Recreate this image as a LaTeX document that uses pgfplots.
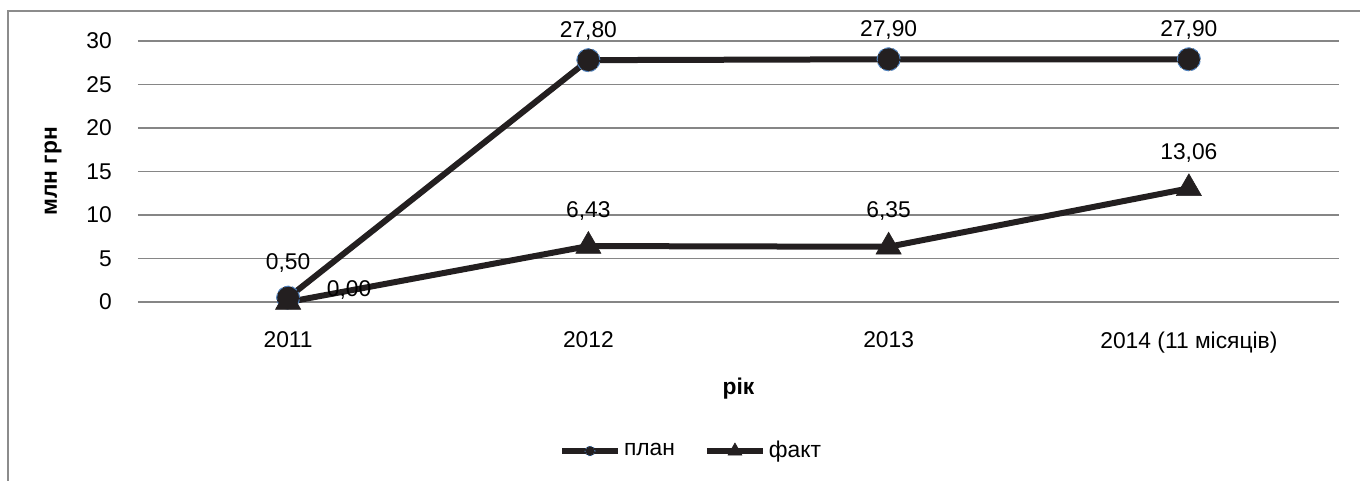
\documentclass[border=0pt]{standalone}
\usepackage{fontspec}
\setmainfont{Liberation Sans}
\usepackage{pgfplots}
\pgfplotsset{compat=1.18}
\definecolor{ln}{RGB}{35,31,32}
\definecolor{grd}{RGB}{134,134,134}
\definecolor{frm}{RGB}{140,140,140}
\definecolor{mkb}{RGB}{79,129,189}
\pgfplotsset{every axis/.append style={font=\fontsize{11.4}{13.6}\selectfont}}

\begin{document}
\fontsize{11.4}{13.6}\selectfont
\begin{tikzpicture}[font=\fontsize{11.4}{13.6}\selectfont]
\useasboundingbox (0,0) rectangle (680pt,-240.5pt);
\draw[frm, line width=0.6pt] (4pt,-241pt) -- (4pt,-5.5pt) -- (681pt,-5.5pt);
\begin{axis}[
 at={(69pt,-151pt)}, anchor=south west,
 scale only axis, width=600.5pt, height=130.5pt,
 xmin=-0.5, xmax=3.5, ymin=0, ymax=30,
 xtick={0,1,2,3}, xticklabels={2011,2012,2013,2014 (11 місяців)},
 ytick={0,5,...,30},
 axis line style={draw=none},
 major tick length=0pt,
 ymajorgrids, grid style={grd, line width=0.6pt},
 /pgf/number format/assume math mode=true,
 yticklabel style={xshift=-9.1pt},
 xticklabel style={yshift=-11pt},
 ylabel={\textbf{млн грн}}, xlabel={\textbf{рік}},
 every axis y label/.append style={at={(axis description cs:-0.0708,0.5)}, anchor=center},
 every axis x label/.append style={at={(axis description cs:0.5,-0.333)}, anchor=center},
 legend style={at={(axis description cs:0.4609,-0.571)}, anchor=center, draw=none, legend columns=2,
   nodes={inner xsep=1.5pt},
   /tikz/every even column/.append style={column sep=13pt}},
 legend image code/.code={\draw[#1, mark repeat=2, mark phase=2] plot coordinates {(0pt,0pt)(14pt,0pt)(28pt,0pt)};},
 clip=false,
]
\addplot[ln, line width=3pt, mark=*, mark size=5.75pt,
  mark options={fill=ln, draw=mkb, densely dotted, line width=0.5pt},
  nodes near coords, point meta=explicit symbolic,
  nodes near coords style={anchor=base, yshift=11.35pt, text=black},
  legend image post style={mark size=2.5pt}]
  table[meta=l] {
x y l
0 0.5 {}
1 27.8 27,80
2 27.9 27,90
3 27.9 27,90
};
\addplot[ln, line width=3pt, mark=triangle*, mark size=7.25pt,
  mark options={fill=ln, draw=ln, solid, line width=0.3pt},
  nodes near coords, point meta=explicit symbolic,
  nodes near coords style={anchor=base, yshift=14.5pt, text=black},
  legend image post style={mark size=4pt}]
  table[meta=l] {
x y l
0 0 {}
1 6.43 6,43
2 6.35 6,35
3 13.06 13,06
};
\addplot[draw=none, mark=none, nodes near coords, point meta=explicit symbolic,
  nodes near coords style={anchor=base, yshift=14.3pt, text=black}, forget plot]
  table[meta=l] {
x y l
0 0.5 0,50
};
\addplot[draw=none, mark=none, nodes near coords, point meta=explicit symbolic,
  nodes near coords style={anchor=base, xshift=30.5pt, yshift=2.65pt, text=black}, forget plot]
  table[meta=l] {
x y l
0 0 0,00
};
\legend{план,факт}
\end{axis}
\end{tikzpicture}
\end{document}
